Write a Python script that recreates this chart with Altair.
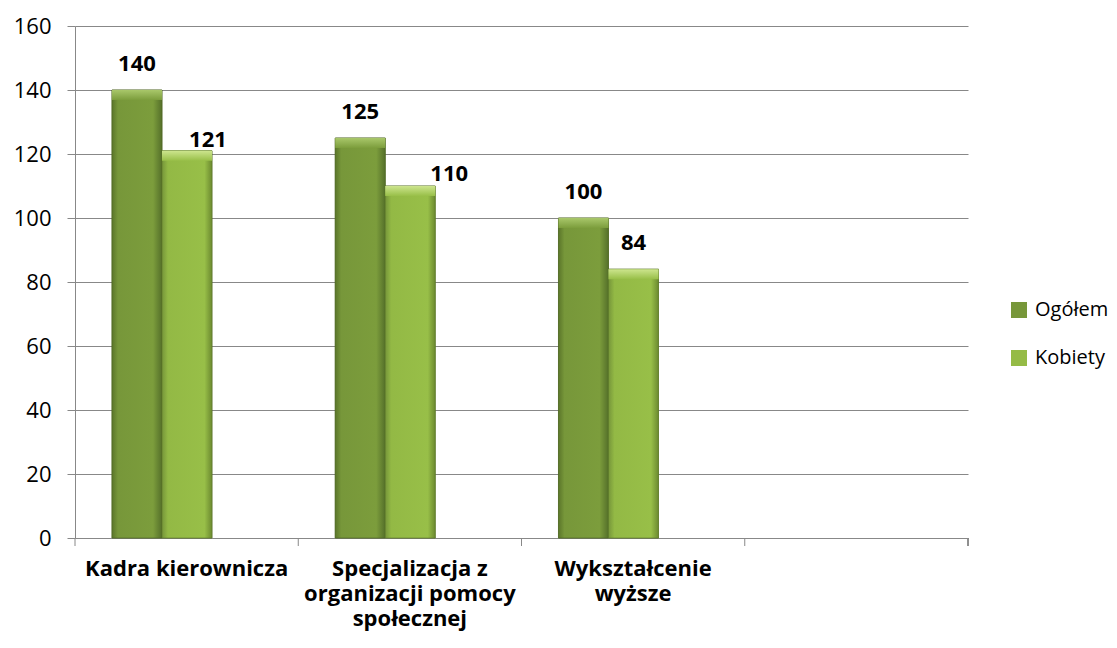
import altair as alt
import pandas as pd

categories = ["Kadra kierownicza", "Specjalizacja z organizacji pomocy społecznej", "Wykształcenie wyższe"]
empty_slot = [" "]
series = ["Ogółem", "Kobiety"]
ogolem = [140, 125, 100]
kobiety = [121, 110, 84]
y_ticks = [0, 20, 40, 60, 80, 100, 120, 140, 160]

# label line breaks (text only)
label_lines = {
    "Kadra kierownicza": ["Kadra kierownicza"],
    "Specjalizacja z organizacji pomocy społecznej": ["Specjalizacja z", "organizacji pomocy", "społecznej"],
    "Wykształcenie wyższe": ["Wykształcenie", "wyższe"],
}

rows = []
for c, a, b in zip(categories, ogolem, kobiety):
    rows.append({"cat": c, "series": "Ogółem", "value": a})
    rows.append({"cat": c, "series": "Kobiety", "value": b})
df = pd.DataFrame(rows)
slots = pd.DataFrame({"cat": categories + empty_slot})

FONT = "Open Sans"
GRID = "#888888"

parts = []
for k, v in label_lines.items():
    arr = "[" + ",".join("'" + s + "'" for s in v) + "]"
    parts.append(f"datum.value === '{k}' ? {arr}")
label_expr = " : ".join(parts) + " : ''"

x_scale = alt.Scale(domain=categories + empty_slot, paddingInner=0, paddingOuter=0)
x_enc = alt.X(
    "cat:N",
    scale=x_scale,
    sort=None,
    axis=alt.Axis(
        title=None, labelExpr=label_expr, labelFont=FONT, labelFontSize=22,
        labelFontWeight="bold", labelColor="#000000", labelPadding=20,
        labelLineHeight=25, ticks=False,
        domainColor=GRID, grid=False, labelAngle=0, labelBaseline="top",
        labelLimit=400,
    ),
)
# an unused third slot makes room on the right side of each group
xo_enc = alt.XOffset(
    "series:N",
    scale=alt.Scale(domain=series + ["_"], paddingInner=0, paddingOuter=0.7325, align=0.505),
)
y_enc = alt.Y(
    "value:Q",
    scale=alt.Scale(domain=[0, 160], nice=False),
    axis=alt.Axis(
        title=None, values=y_ticks, labelFont=FONT, labelFontSize=22,
        labelColor="#000000", labelPadding=16, tickSize=8, tickColor=GRID,
        gridColor=GRID, domainColor=GRID,
    ),
)

base = alt.Chart(df)

bars = base.mark_bar(stroke="#4f6624", strokeWidth=0.6).encode(
    x=x_enc, xOffset=xo_enc, y=y_enc,
    color=alt.Color(
        "series:N",
        scale=alt.Scale(domain=series, range=["#77973A", "#95BB46"]),
        legend=alt.Legend(
            title=None, orient="none", legendX=934, legendY=274,
            symbolType="square", symbolSize=256, symbolStrokeWidth=0,
            labelFont=FONT, labelFontSize=20, labelColor="#000000",
            rowPadding=28, labelOffset=6,
        ),
    ),
)

# category boundary ticks below the x axis
tick_rules = alt.Chart(slots).mark_rule(color=GRID, strokeWidth=1).encode(
    x=alt.X("cat:N", scale=x_scale, bandPosition=0),
    y=alt.value(512), y2=alt.value(520),
)
end_tick = alt.Chart(slots).mark_rule(color=GRID, strokeWidth=1).encode(
    x=alt.value(893), y=alt.value(512), y2=alt.value(520),
)

grad_og = alt.Gradient(
    gradient="linear", x1=0, x2=1, y1=0, y2=0,
    stops=[
        alt.GradientStop(color="#5B762A", offset=0),
        alt.GradientStop(color="#77973A", offset=0.12),
        alt.GradientStop(color="#7C9D3C", offset=0.82),
        alt.GradientStop(color="#55702A", offset=1),
    ],
)
grad_kb = alt.Gradient(
    gradient="linear", x1=0, x2=1, y1=0, y2=0,
    stops=[
        alt.GradientStop(color="#76963A", offset=0),
        alt.GradientStop(color="#93B945", offset=0.12),
        alt.GradientStop(color="#98BF48", offset=0.85),
        alt.GradientStop(color="#6C8A30", offset=1),
    ],
)
top_og = alt.Gradient(
    gradient="linear", x1=0, x2=0, y1=0, y2=1,
    stops=[
        alt.GradientStop(color="#A9C76A", offset=0),
        alt.GradientStop(color="#7C9D3C", offset=1),
    ],
)
top_kb = alt.Gradient(
    gradient="linear", x1=0, x2=0, y1=0, y2=1,
    stops=[
        alt.GradientStop(color="#CDE58E", offset=0),
        alt.GradientStop(color="#98BF48", offset=1),
    ],
)

y_top = alt.Y("value:Q", scale=alt.Scale(domain=[0, 160], nice=False))

def series_layers(name, grad, top, stroke):
    sub = base.transform_filter(alt.datum.series == name)
    body = sub.mark_bar(fill=grad, stroke=stroke, strokeWidth=0.6).encode(
        x=x_enc, xOffset=xo_enc, y=y_enc
    )
    bevel = sub.mark_bar(fill=top, y2Offset=10, xOffset=5, x2Offset=-5, strokeWidth=0).encode(
        x=x_enc, xOffset=xo_enc, y=y_top, y2="value:Q"
    )
    return [body, bevel]

over = series_layers("Ogółem", grad_og, top_og, "#4f6624") + series_layers("Kobiety", grad_kb, top_kb, "#5e7a2a")

# data labels; two labels were nudged sideways in the original
nudges = {
    ("Kadra kierownicza", "Kobiety"): (21, -11),
    ("Specjalizacja z organizacji pomocy społecznej", "Kobiety"): (39, -12),
}

def is_nudged():
    cond = None
    for (c, s) in nudges:
        e = (alt.datum.cat == c) & (alt.datum.series == s)
        cond = e if cond is None else (cond | e)
    return cond

text_style = dict(font=FONT, fontSize=22, fontWeight="bold", color="#000000", baseline="middle", align="center")

labels = [
    base.transform_filter(~is_nudged()).mark_text(dy=-26, **text_style).encode(
        x=x_enc, xOffset=xo_enc, y=y_enc, text="value:Q"
    )
]
for (c, s), (dx, dy) in nudges.items():
    labels.append(
        base.transform_filter((alt.datum.cat == c) & (alt.datum.series == s))
        .mark_text(dx=dx, dy=dy, **text_style)
        .encode(x=x_enc, xOffset=xo_enc, y=y_enc, text="value:Q")
    )

chart = alt.layer(bars, *over, *labels, tick_rules, end_tick).properties(
    width=893, height=512,
    autosize=alt.AutoSizeParams(type="none"),
    padding={"left": 67, "top": 18, "right": 140, "bottom": 100},
    view=alt.ViewBackground(stroke="transparent", strokeWidth=0, strokeOpacity=0),
).configure(
    background="white",
    view=alt.ViewConfig(stroke="transparent", strokeWidth=0, strokeOpacity=0),
    style={"cell": {"stroke": "transparent", "strokeWidth": 0, "strokeOpacity": 0}},
)

chart.save("out.html", embed_options={"renderer": "svg", "actions": False})
